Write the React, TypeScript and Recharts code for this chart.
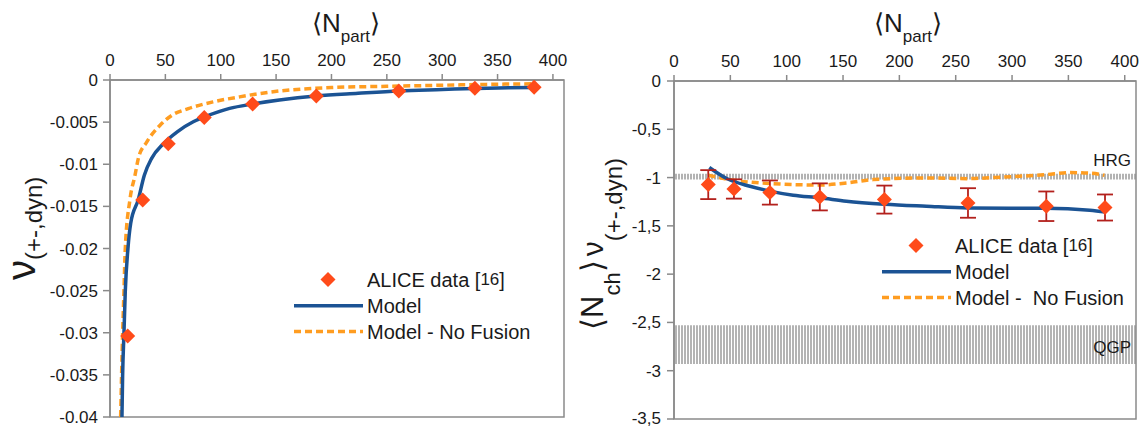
import React from 'react';
import { ComposedChart, Line, Scatter, XAxis, YAxis, ErrorBar, ReferenceArea, Legend } from 'recharts';

// ---------- shared axis ticks ----------
const xTicks = [0, 50, 100, 150, 200, 250, 300, 350, 400];
const leftYTicks = [0, -0.005, -0.01, -0.015, -0.02, -0.025, -0.03, -0.035, -0.04];
const rightYTicks = [0, -0.5, -1, -1.5, -2, -2.5, -3, -3.5];

// ---------- left panel: nu(+-,dyn) ----------
const leftDataN = [16.0, 29.5, 52.6, 85.1, 128.8, 186.3, 260.8, 329.5, 383];
const leftDataV = [-0.0304, -0.01423, -0.00757, -0.00446, -0.00285, -0.0019, -0.0013, -0.00099, -0.00085];

const leftModelN = [10.8, 11.4, 12.6, 13.8, 16.2, 18.7, 25.5, 31, 37.6, 48, 60.7, 75.2, 85, 108, 129, 153, 186, 224, 261, 300, 330, 360, 383];
const leftModelV = [-0.04, -0.0351, -0.0301, -0.0251, -0.02, -0.017, -0.0142, -0.0113, -0.0093, -0.0076, -0.00615, -0.00496, -0.0044, -0.00337, -0.00285, -0.00238, -0.0019, -0.00158, -0.0013, -0.00113, -0.001, -0.00093, -0.00088];

const leftNoFusionN = [9.6, 11.4, 12.6, 13.8, 18, 22.6, 25.6, 33, 45, 55.7, 70.7, 93, 117, 153, 200, 250, 300, 340, 381];
const leftNoFusionV = [-0.04, -0.0301, -0.0251, -0.02, -0.0142, -0.0113, -0.0093, -0.0074, -0.0054, -0.0042, -0.0034, -0.0026, -0.002, -0.0013, -0.0009, -0.00075, -0.00062, -0.00052, -0.00045];

// ---------- right panel: <Nch> nu(+-,dyn) ----------
const rightDataN = [30.4, 53.2, 85.1, 129.4, 186.7, 260.9, 330.4, 382.5];
const rightDataV = [-1.073, -1.118, -1.155, -1.2, -1.228, -1.263, -1.297, -1.31];
const rightDataErr = [0.15, 0.1, 0.125, 0.14, 0.145, 0.153, 0.153, 0.135];

const rightModelN = [31.3, 46.7, 67.4, 85, 105.8, 129.4, 153, 187, 224, 261, 300, 330, 369, 383];
const rightModelV = [-0.896, -1.01, -1.09, -1.14, -1.183, -1.21, -1.245, -1.276, -1.297, -1.315, -1.318, -1.318, -1.338, -1.356];

const rightNoFusionN = [30.4, 53.2, 85, 129.4, 153, 176.7, 224, 261, 283, 330, 351, 370, 382];
const rightNoFusionV = [-0.976, -1.028, -1.062, -1.077, -1.056, -1.021, -1.004, -1.011, -1.0, -0.969, -0.948, -0.955, -0.976];

const hrgBand = [-1.02, -0.96];
const qgpBand = [-2.93, -2.53];

const xDomain = [0, 410];

// ---------- build tables ----------
const zip = (xs: number[], ys: number[], es?: number[]) =>
  xs.map((x, i) => (es ? { x, y: ys[i], err: es[i] } : { x, y: ys[i] }));

const leftData = zip(leftDataN, leftDataV);
const leftModel = zip(leftModelN, leftModelV);
const leftNoFusion = zip(leftNoFusionN, leftNoFusionV);
const rightData = zip(rightDataN, rightDataV, rightDataErr);
const rightModel = zip(rightModelN, rightModelV);
const rightNoFusion = zip(rightNoFusionN, rightNoFusionV);

// ---------- styles ----------
const FONT = '"Liberation Sans", Arial, sans-serif';
const BLUE = '#1b5394';
const ORANGE = '#ff9d21';
const RED = '#ff4b1a';
const ERR = '#b3201c';
const AXIS = '#8a8a8a';
const TEXT = '#1a1a1a';

const Diamond = (props: any) => {
  const { cx, cy } = props;
  if (cx == null || cy == null) return null;
  const r = 7.5;
  return (
    <polygon
      points={`${cx},${cy - r} ${cx + r},${cy} ${cx},${cy + r} ${cx - r},${cy}`}
      fill={RED}
    />
  );
};

const legendContent = (noFusionLabel: string) => () => (
  <svg width={270} height={105} style={{ fontFamily: FONT, overflow: 'visible' }}>
    <polygon points="46,10 53.5,17.5 46,25 38.5,17.5" fill={RED} />
    <text x={85} y={25} fontSize={20} fill={TEXT}>
      ALICE data [<tspan fontSize={17} dy={-2}>16</tspan><tspan dy={2}>]</tspan>
    </text>
    <line x1={12} x2={81} y1={43.7} y2={43.7} stroke={BLUE} strokeWidth={3.5} />
    <text x={85} y={51} fontSize={20} fill={TEXT}>Model</text>
    <line x1={12} x2={81} y1={69.5} y2={69.5} stroke={ORANGE} strokeWidth={3.5} strokeDasharray="7 4" />
    <text x={85} y={77} fontSize={20} fill={TEXT} style={{ whiteSpace: 'pre' }}>{noFusionLabel}</text>
  </svg>
);

const tickStyle = { fontSize: 17, fill: TEXT, fontFamily: FONT };

const StripeDefs = ({ id }: { id: string }) => (
  <defs>
    <pattern id={id} width={3} height={6} patternUnits="userSpaceOnUse">
      <rect x={0} y={0} width={2} height={6} fill="#b3b3b3" />
    </pattern>
  </defs>
);

export default function App() {
  return (
    <div style={{ position: 'absolute', left: 0, top: 0, width: 1144, height: 428, background: '#fff', fontFamily: FONT }}>
      {/* LEFT PANEL */}
      <div style={{ position: 'absolute', left: 0, top: 0 }}>
        <ComposedChart width={570} height={428} margin={{ top: 0, right: 6, bottom: 11, left: 0 }}>
          <XAxis
            dataKey="x"
            type="number"
            orientation="top"
            domain={xDomain}
            ticks={xTicks}
            height={80}
            tickSize={6}
            tickMargin={8}
            allowDataOverflow
            axisLine={{ stroke: AXIS, strokeWidth: 1.5 }}
            tickLine={{ stroke: AXIS, strokeWidth: 1.5 }}
            tick={tickStyle}
          />
          <YAxis
            dataKey="y"
            type="number"
            domain={[-0.04, 0]}
            ticks={leftYTicks}
            width={110}
            tickSize={7}
            tickMargin={5}
            allowDataOverflow
            tickFormatter={(v: number) => String(v)}
            axisLine={{ stroke: AXIS, strokeWidth: 1.5 }}
            tickLine={{ stroke: AXIS, strokeWidth: 1.5 }}
            tick={tickStyle}
          />
          <ReferenceArea x1={0} x2={410} y1={-0.04} y2={0} fill="none" stroke={AXIS} strokeWidth={1.5} />
          <Line data={leftNoFusion} dataKey="y" type="monotone" stroke={ORANGE} strokeWidth={3.5} strokeDasharray="7 4" dot={false} isAnimationActive={false} />
          <Line data={leftModel} dataKey="y" type="monotone" stroke={BLUE} strokeWidth={3.5} dot={false} isAnimationActive={false} />
          <Scatter data={leftData} dataKey="y" shape={Diamond} isAnimationActive={false} />
          <Legend
            layout="vertical"
            align="center"
            verticalAlign="middle"
            wrapperStyle={{ left: 282, top: 262, width: 270, height: 105 }}
            content={legendContent('Model - No Fusion')}
          />
        </ComposedChart>
      </div>

      {/* RIGHT PANEL */}
      <div style={{ position: 'absolute', left: 570, top: 0 }}>
        <ComposedChart width={574} height={428} margin={{ top: 0, right: 8, bottom: 9, left: 0 }}>
          <StripeDefs id="stripesR" />
          <XAxis
            dataKey="x"
            type="number"
            orientation="top"
            domain={xDomain}
            ticks={xTicks}
            height={81}
            tickSize={6}
            tickMargin={8}
            allowDataOverflow
            axisLine={{ stroke: AXIS, strokeWidth: 1.5 }}
            tickLine={{ stroke: AXIS, strokeWidth: 1.5 }}
            tick={tickStyle}
          />
          <YAxis
            dataKey="y"
            type="number"
            domain={[-3.5, 0]}
            ticks={rightYTicks}
            width={104}
            tickSize={7}
            tickMargin={6}
            allowDataOverflow
            tickFormatter={(v: number) => String(v).replace('.', ',')}
            axisLine={{ stroke: AXIS, strokeWidth: 1.5 }}
            tickLine={{ stroke: AXIS, strokeWidth: 1.5 }}
            tick={tickStyle}
          />
          <ReferenceArea x1={0} x2={410} y1={hrgBand[0]} y2={hrgBand[1]} fill="url(#stripesR)" stroke="none" fillOpacity={1} />
          <ReferenceArea x1={0} x2={410} y1={qgpBand[0]} y2={qgpBand[1]} fill="url(#stripesR)" stroke="none" fillOpacity={1} />
          <ReferenceArea x1={0} x2={410} y1={-3.5} y2={0} fill="none" stroke={AXIS} strokeWidth={1.5} />
          <Line data={rightNoFusion} dataKey="y" type="monotone" stroke={ORANGE} strokeWidth={3.5} strokeDasharray="7 4" dot={false} isAnimationActive={false} />
          <Line data={rightModel} dataKey="y" type="monotone" stroke={BLUE} strokeWidth={3.5} dot={false} isAnimationActive={false} />
          <Scatter data={rightData} dataKey="y" shape={Diamond} isAnimationActive={false}>
            <ErrorBar dataKey="err" direction="y" width={8} stroke={ERR} strokeWidth={1.8} />
          </Scatter>
          <Legend
            layout="vertical"
            align="center"
            verticalAlign="middle"
            wrapperStyle={{ left: 300, top: 228, width: 270, height: 105 }}
            content={legendContent('Model -  No Fusion')}
          />
        </ComposedChart>
      </div>

      {/* Titles and axis labels */}
      <svg width={1144} height={428} style={{ position: 'absolute', left: 0, top: 0, pointerEvents: 'none', fontFamily: FONT }}>
        <text x={346} y={32} textAnchor="middle" fontSize={26} fill={TEXT}>
          ⟨N<tspan fontSize={17} dy={10}>part</tspan><tspan dy={-10}>⟩</tspan>
        </text>
        <text x={908} y={32} textAnchor="middle" fontSize={26} fill={TEXT}>
          ⟨N<tspan fontSize={17} dy={10}>part</tspan><tspan dy={-10}>⟩</tspan>
        </text>

        <text transform="translate(35,280) rotate(-90)" fontSize={40} fill={TEXT}>
          ν<tspan fontSize={24} dy={7}>(+-,dyn)</tspan>
        </text>

        <text transform="translate(603,330) rotate(-90)" fontSize={31} fill={TEXT}>
          ⟨N<tspan fontSize={22} dy={17}>ch</tspan><tspan dy={-17}>⟩</tspan><tspan dx={4} fontSize={30}>ν</tspan><tspan fontSize={24} dy={19}>(+-,dyn)</tspan>
        </text>

        <text x={1131} y={166} textAnchor="end" fontSize={17} fill={TEXT}>HRG</text>
        <text x={1131} y={353} textAnchor="end" fontSize={17} fill={TEXT}>QGP</text>
      </svg>
    </div>
  );
}
